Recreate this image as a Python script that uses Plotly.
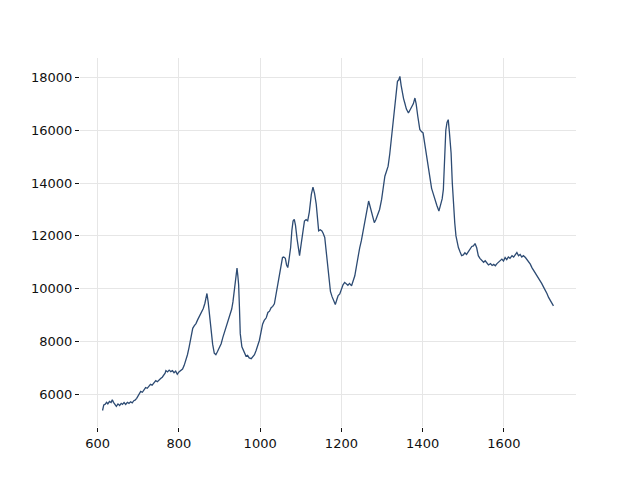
import plotly.graph_objects as go

wavenumber = [612, 615, 618, 622, 625, 629, 633, 636, 639, 642, 646, 650, 654, 658, 661, 665, 669, 673, 677, 681,
              685, 689, 692, 696, 699, 702, 706, 710, 714, 718, 722, 726, 730, 734, 739, 743, 747, 751, 755, 759,
              763, 766, 768, 772, 776, 780, 784, 788, 792, 796, 800, 804, 809, 813, 817, 821, 825, 829, 834, 838,
              842, 846, 850, 854, 857, 860, 864, 867, 869, 872, 875, 879, 883, 887, 891, 895, 899, 904, 908, 912,
              916, 920, 925, 930, 933, 936, 940, 943, 945, 947, 949, 951, 955, 961, 965, 969, 973, 978, 982, 986,
              990, 994, 998, 1002, 1006, 1010, 1015, 1019, 1023, 1027, 1031, 1035, 1039, 1043, 1048, 1052, 1055, 1058, 1062, 1065,
              1068, 1071, 1075, 1078, 1081, 1084, 1087, 1091, 1094, 1097, 1101, 1105, 1109, 1113, 1117, 1121, 1126, 1130, 1134, 1138,
              1141, 1144, 1148, 1152, 1155, 1159, 1162, 1165, 1169, 1173, 1177, 1181, 1185, 1189, 1192, 1196, 1200, 1204, 1208, 1212,
              1216, 1220, 1225, 1229, 1233, 1237, 1241, 1245, 1249, 1253, 1258, 1262, 1267, 1270, 1274, 1278, 1281, 1285, 1290, 1294,
              1299, 1303, 1307, 1311, 1315, 1319, 1323, 1327, 1331, 1335, 1338, 1341, 1344, 1347, 1350, 1353, 1356, 1360, 1365, 1369,
              1373, 1377, 1381, 1384, 1388, 1391, 1393, 1397, 1401, 1405, 1410, 1414, 1418, 1422, 1426, 1430, 1435, 1440, 1444, 1448,
              1451, 1454, 1457, 1460, 1463, 1466, 1470, 1473, 1476, 1479, 1482, 1485, 1488, 1492, 1496, 1500, 1504, 1508, 1513, 1517,
              1521, 1525, 1529, 1533, 1537, 1541, 1546, 1550, 1554, 1558, 1562, 1567, 1571, 1575, 1579, 1583, 1587, 1591, 1595, 1599,
              1603, 1607, 1611, 1615, 1620, 1624, 1628, 1632, 1636, 1640, 1644, 1648, 1653, 1657, 1661, 1665, 1669, 1673, 1677, 1681,
              1685, 1689, 1693, 1698, 1702, 1706, 1710, 1714, 1718, 1722]

intensity = [5390, 5600, 5620, 5700, 5640, 5730, 5690, 5800, 5700, 5640, 5550, 5640, 5580, 5660, 5620, 5690, 5620, 5700, 5660, 5720,
             5680, 5760, 5780, 5850, 5920, 6030, 6110, 6080, 6200, 6260, 6230, 6330, 6380, 6350, 6470, 6520, 6480, 6560, 6600, 6650,
             6720, 6800, 6900, 6850, 6920, 6860, 6900, 6820, 6880, 6760, 6850, 6900, 6960, 7100, 7280, 7500, 7780, 8100, 8500, 8600,
             8680, 8820, 8950, 9100, 9180, 9250, 9450, 9650, 9820, 9500, 9050, 8500, 7900, 7560, 7500, 7620, 7760, 7920, 8150, 8350,
             8500, 8780, 8950, 9230, 9500, 9850, 10300, 10780, 10500, 10150, 9300, 8300, 7800, 7600, 7450, 7480, 7380, 7350, 7420, 7500,
             7660, 7850, 8040, 8350, 8660, 8800, 8900, 9100, 9150, 9280, 9330, 9430, 9800, 10240, 10700, 11050, 11180, 11200, 11150, 10900,
             10800, 11100, 11560, 12200, 12560, 12630, 12400, 11870, 11500, 11250, 11700, 12190, 12560, 12620, 12570, 12900, 13570, 13850, 13600, 13200,
             12700, 12190, 12230, 12190, 12100, 11940, 11500, 11060, 10300, 9900, 9700, 9550, 9400, 9600, 9740, 9800, 9990, 10150, 10240, 10200,
             10130, 10200, 10110, 10300, 10490, 10850, 11240, 11550, 11810, 12150, 12500, 12900, 13320, 13150, 12880, 12650, 12500, 12620, 12820, 13000,
             13380, 13800, 14260, 14450, 14640, 15100, 15650, 16300, 16900, 17500, 17850, 17900, 18040, 17700, 17400, 17200, 17030, 16800, 16650, 16750,
             16900, 17000, 17220, 17000, 16530, 16200, 16030, 15950, 15900, 15500, 15020, 14600, 14140, 13800, 13600, 13380, 13150, 12940, 13150, 13400,
             13760, 14800, 16000, 16300, 16400, 15900, 15140, 14000, 13130, 12500, 12000, 11700, 11560, 11400, 11250, 11280, 11360, 11300, 11430, 11520,
             11600, 11620, 11710, 11550, 11250, 11150, 11080, 11000, 11060, 10980, 10900, 10950, 10880, 10920, 10870, 10950, 11000, 11080, 11120, 11050,
             11180, 11100, 11200, 11150, 11250, 11200, 11300, 11370, 11250, 11300, 11200, 11250, 11180, 11100, 11050, 10930, 10800, 10700, 10650, 10550,
             10420, 10300, 10200, 10050, 9950, 9820, 9670, 9580, 9460, 9350]

x_ticks = [600, 800, 1000, 1200, 1400, 1600]
y_ticks = [6000, 8000, 10000, 12000, 14000, 16000, 18000]

fig = go.Figure(go.Scatter(x=wavenumber, y=intensity, mode="lines",
                           line=dict(color="#2d4b73", width=1.3)))

axis_common = dict(showgrid=True, gridcolor="#e6e6e6", gridwidth=1.2, zeroline=False,
                   showline=False, ticks="outside", ticklen=4, tickwidth=1, tickcolor="#111111",
                   tickfont=dict(family="DejaVu Sans", size=13, color="#111111"))

fig.update_layout(
    width=624, height=464,
    margin=dict(l=72, r=56, t=50, b=45),
    paper_bgcolor="white", plot_bgcolor="white",
    showlegend=False,
    xaxis=dict(range=[556.5, 1777.5], tickvals=x_ticks, ticktext=[str(v) for v in x_ticks], **axis_common),
    yaxis=dict(range=[4765, 18735], tickvals=y_ticks, ticktext=[str(v) for v in y_ticks], **axis_common),
)

fig.write_html("out.html")
